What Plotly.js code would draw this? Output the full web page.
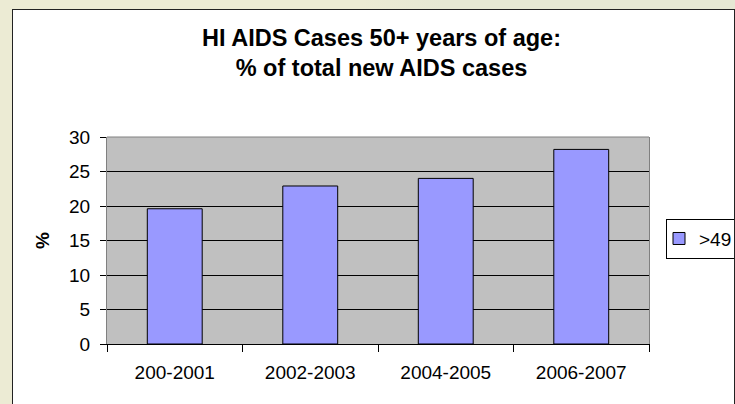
<!DOCTYPE html>
<html>
<head>
<meta charset="utf-8">
<script src="https://cdn.plot.ly/plotly-3.0.1.min.js"></script>
<style>
  html, body { margin: 0; padding: 0; width: 735px; height: 404px; overflow: hidden;
    background: linear-gradient(100deg, #ECEBD4 0%, #ECEBD4 45%, #E6E8D4 55%, #E6E8D4 100%); }
  #frame { position: absolute; left: 12px; top: 9px; width: 721px; height: 400px;
    border-left: 1px solid #222; border-top: 1px solid #222; border-right: 1px solid #222;
    background: #fff; overflow: hidden; }
  #chart { position: absolute; left: 0; top: 0; width: 800px; height: 394px; }
</style>
</head>
<body>
<div id="frame"><div id="chart"></div></div>
<script>
const categories = ["200-2001", "2002-2003", "2004-2005", "2006-2007"];
const seriesName = ">49";
const values = [19.6, 22.9, 24.0, 28.2];
const yTicks = [0, 5, 10, 15, 20, 25, 30];

const trace = {
  type: "bar",
  x: categories,
  y: values,
  name: seriesName,
  width: 0.405,
  marker: { color: "#9999FF", line: { color: "#000000", width: 1 } },
  showlegend: true,
  hoverinfo: "x+y"
};

const W = 800, H = 394;
const layout = {
  width: W, height: H,
  margin: { l: 94, r: W - 636, t: 127, b: 60 },
  paper_bgcolor: "#ffffff",
  plot_bgcolor: "#C0C0C0",
  font: { family: "Liberation Sans, Arial, sans-serif", color: "#000", size: 19 },
  title: {
    text: "HI AIDS Cases 50+ years of age:<br>% of total new AIDS cases",
    font: { size: 23.5, weight: "bold", family: "Liberation Sans, Arial, sans-serif", color: "#000" },
    xref: "container", yref: "container",
    x: 368.5 / W, xanchor: "center",
    y: 1 - 35.5 / H, yanchor: "middle"
  },
  xaxis: {
    type: "category",
    tickson: "boundaries",
    ticks: "outside", ticklen: 7, tickcolor: "#000", tickwidth: 1,
    showline: true, linecolor: "#000", linewidth: 1,
    showgrid: false,
    tickfont: { size: 19 },
    ticklabelstandoff: 11
  },
  yaxis: {
    range: [0, 30],
    tickvals: yTicks,
    ticks: "outside", ticklen: 6, tickcolor: "#000", tickwidth: 1,
    showline: true, linecolor: "#808080", linewidth: 1, mirror: true,
    showgrid: true, gridcolor: "#000000", gridwidth: 1,
    zeroline: false,
    tickfont: { size: 19 },
    ticklabelstandoff: 6,
    title: { text: "%", font: { size: 19, weight: "bold" }, standoff: 14 }
  },
  shapes: [
    { type: "line", xref: "paper", yref: "paper", x0: 0, x1: 1, y0: 1, y1: 1,
      line: { color: "#808080", width: 1 } }
  ],
  legend: {
    x: (653 - 94) / 542, xanchor: "left",
    y: 0.509, yanchor: "middle",
    bgcolor: "#ffffff", bordercolor: "#000", borderwidth: 1,
    indentation: -8,
    font: { size: 19 }
  },
  bargap: 0.6
};

Plotly.newPlot("chart", [trace], layout, { displayModeBar: false, staticPlot: true });
</script>
</body>
</html>
